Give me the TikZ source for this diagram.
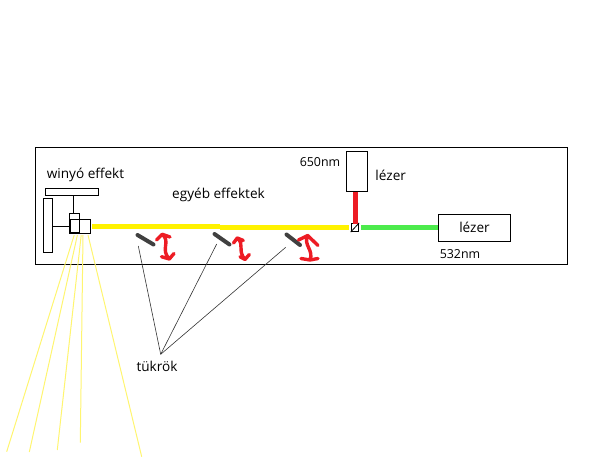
\documentclass[tikz,border=0pt]{standalone}
\usepackage{fontspec}
\setmainfont{Open Sans}
\definecolor{beamyellow}{HTML}{FFF200}
\definecolor{rayyellow}{HTML}{FFF570}
\definecolor{beamred}{HTML}{ED1C24}
\definecolor{beamgreen}{HTML}{4CEB4C}
\definecolor{mirrorgray}{HTML}{404040}
\tikzset{
    box/.style={draw,line width=1pt,inner sep=0pt,minimum width=#1},
    label/.style={inner sep=0pt,font=\fontsize{13.6}{16}\selectfont},
    wave/.style={inner sep=0pt,font=\fontsize{12.4}{16}\selectfont},
    beam/.style={line width=4.5pt},
    ray/.style={rayyellow,line width=1pt},
    mirror/.style={mirrorgray,line width=4pt,line cap=round},
    swing/.style={beamred,line width=3.4pt,line cap=round,line join=round},
    leader/.style={line width=0.6pt,black!80}
}
\begin{document}
\begin{tikzpicture}[x=1pt,y=-1pt]
    \useasboundingbox (0,0) rectangle (614,460);
    \node[box=532pt,minimum height=116pt] (frame) at (301,206) {};

    % winyo
    \node[box=52.5pt,minimum height=7pt] (topbar) at (71.8,191.5) {};
    \node[box=8.5pt,minimum height=54pt] (sidebar) at (48.2,225) {};
    \node[box=10pt,minimum height=20pt] (holder) at (74.5,223) {};
    \node[box=9.5pt,minimum height=13.5pt,line width=1.5pt] (head) at (74.8,226.3) {};
    \node[box=11pt,minimum height=13.5pt] (lens) at (85,226.3) {};
    \coordinate (hang) at (73.3,213);
    \draw[line width=1pt] (hang) -- (hang |- topbar.south);
    \draw[line width=1pt] (sidebar.east |- head.west) -- (head.west);

    % lezerek
    \node[box=21.5pt,minimum height=40.5pt] (redlaser) at (357,171.5) {};
    \node[box=72.5pt,minimum height=27pt,label] (greenlaser) at (474.5,227.8) {lézer};
    \node[box=7.7pt,minimum height=8.4pt,line width=0.8pt] (cube) at (354.9,227.5) {};
    \draw[line width=0.8pt] (cube.south west) -- (cube.north east);
    \coordinate (redout) at (355.7,191.7);
    \draw[beamred,beam] (redout) -- ([yshift=-1.5pt]redout |- cube.north);
    \draw[beamgreen,beam] ([xshift=2.3pt]cube.east) -- (cube.east -| greenlaser.west);

    % sarga sugar
    \coordinate (start) at (92,226.3);
    \coordinate (kink) at (220,226.3);
    \draw[beamyellow,beam] (start) -- (kink);
    \draw[beamyellow,beam] (kink |- cube.west) -- ([xshift=-2pt]cube.west);

    % kilepo sugarak
    \foreach \a/\b/\c/\d in {74.2/235/6.7/451.7,77.4/235/29.3/452,81.2/235/57.3/450,83/235/80.3/442.7,88/235/141.7/456.7}
        \draw[ray] (\a,\b) -- (\c,\d);

    % tukrok
    \draw[mirror] (137.5,235) -- (153.5,244.5);
    \draw[mirror] (214.5,234) -- (229.5,244.5);
    \draw[mirror] (286.5,234.5) -- (300,245);
    \coordinate (apex) at (160.7,354.3);
    \foreach \a/\b in {138.3/246,216.7/244,285.7/247.3}
        \draw[leader] (\a,\b) -- (apex);

    % nyilak
    \draw[swing] (156.5,240) -- (162.3,234.3) -- (170,237) (162.3,234.3) .. controls (171,242) and (160,249) .. (169.3,259) (161.5,256.7) -- (169.3,259) -- (174,253.5);
    \draw[swing] (233.5,243) -- (237.3,238) -- (243.3,240.5) (237.3,238) .. controls (245,245) and (237,250) .. (245,259.5) (240,256.7) -- (245,259.5) -- (249.3,254.5);
    \draw[swing] (298.5,240) -- (307.7,235.5) -- (318,245.5) (307.7,235.5) .. controls (303,245) and (314,250) .. (310,260) (301,258.5) -- (310,260) -- (318,258.5);

    % feliratok
    \node[label] (hdd) at (85.5,175) {winyó effekt};
    \node[label] (other) at (218.5,195) {egyéb effektek};
    \node[wave] (redwave) at (320,162.5) {650nm};
    \node[label] (redname) at (390.7,175.5) {lézer};
    \node[wave] (greenwave) at (460,254) {532nm};
    \node[label] (mirrors) at (157,366) {tükrök};
\end{tikzpicture}
\end{document}
